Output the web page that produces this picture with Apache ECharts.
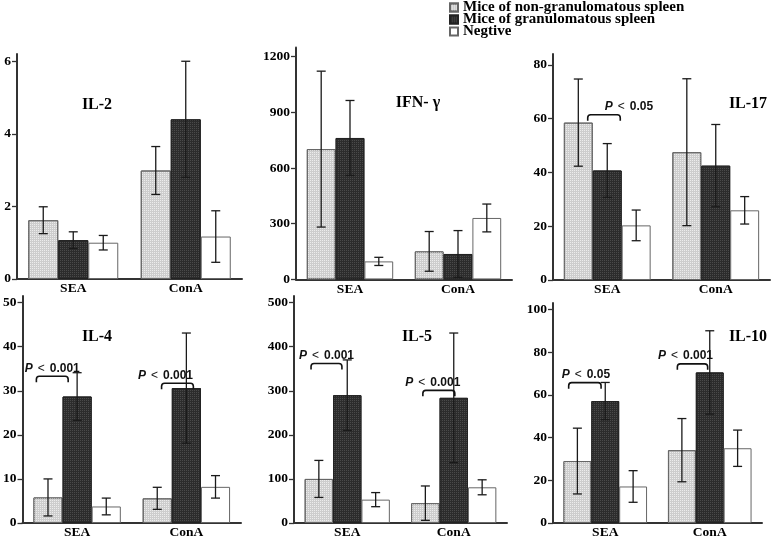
<!DOCTYPE html>
<html><head><meta charset="utf-8">
<script src="https://cdn.jsdelivr.net/npm/echarts@6/dist/echarts.min.js"></script>
<style>html,body{margin:0;padding:0;background:#fff}#c{width:778px;height:540px}</style>
</head><body><div id="c"></div>
<script>
// ---------------- DATA ----------------
const categories = ['SEA', 'ConA'];
const groupNames = ['Mice of non-granulomatous spleen', 'Mice of granulomatous spleen', 'Negtive'];
const panelTitles = ['IL-2', 'IFN- γ', 'IL-17', 'IL-4', 'IL-5', 'IL-10'];

// means per group: [SEA, ConA]
const il2Mean  = [[1.62, 2.99], [1.07, 4.40], [1.00, 1.17]];
const il2Err   = [[0.37, 0.66], [0.23, 1.60], [0.20, 0.71]];
const ifnMean  = [[702, 151], [762, 137], [97, 331]];
const ifnErr   = [[420, 107], [202, 126], [22, 75]];
const il17Mean = [[58.5, 47.5], [40.7, 42.5], [20.3, 25.9]];
const il17Err  = [[16.2, 27.3], [10.0, 15.3], [5.7, 5.1]];
const il4Mean  = [[5.8, 5.6], [28.7, 30.6], [3.75, 8.2]];
const il4Err   = [[4.2, 2.5], [5.4, 12.5], [1.9, 2.55]];
const il5Mean  = [[100, 45], [290, 284], [53, 81]];
const il5Err   = [[42, 39], [80, 147], [16, 17]];
const il10Mean = [[29, 34.1], [57.1, 70.5], [17.1, 35]];
const il10Err  = [[15.4, 14.8], [8.7, 19.5], [7.4, 8.5]];

// tick labels per panel
const il2Ticks  = [0, 2, 4, 6];
const ifnTicks  = [0, 300, 600, 900, 1200];
const il17Ticks = [0, 20, 40, 60, 80];
const il4Ticks  = [0, 10, 20, 30, 40, 50];
const il5Ticks  = [0, 100, 200, 300, 400, 500];
const il10Ticks = [0, 20, 40, 60, 80, 100];

// significance labels: [panelIndex, categoryIndex, bracketValue, label]
const sigLabels = [
  [2, 0, 61.4, '0.05'],
  [3, 0, 33.3, '0.001'],
  [3, 1, 31.7, '0.001'],
  [4, 0, 362, '0.001'],
  [4, 1, 301, '0.001'],
  [5, 0, 65.7, '0.05'],
  [5, 1, 74.5, '0.001']
];

// ---------------- LAYOUT ----------------
const panelMeans = [il2Mean, ifnMean, il17Mean, il4Mean, il5Mean, il10Mean];
const panelErrs = [il2Err, ifnErr, il17Err, il4Err, il5Err, il10Err];
const panelTicks = [il2Ticks, ifnTicks, il17Ticks, il4Ticks, il5Ticks, il10Ticks];
const panelMax = [6.2, 1250, 84, 51.5, 515, 103];
const grids = [
  {left: 17,  top: 54,  width: 225, height: 225},
  {left: 296, top: 47.4, width: 216, height: 232},
  {left: 553, top: 54,  width: 217, height: 226},
  {left: 21,  top: 296, width: 220, height: 229},
  {left: 294, top: 296, width: 213, height: 229},
  {left: 553, top: 303, width: 209, height: 223}
];
const titlePos = [[97, 97], [418, 95], [748, 96], [97, 329], [417, 329], [748, 329]];
// bracket horizontal extent relative to category centre, in band widths; text dx in px
const sigLayout = [
  [-0.18, 0.12, 25],
  [-0.373, -0.082, 0],
  [-0.227, 0.064, -12],
  [-0.34, -0.05, 0],
  [-0.29, 0.01, -6],
  [-0.35, -0.04, 1],
  [-0.31, -0.02, -7]
];

const serif = 'Liberation Serif';
const sans = 'Liberation Sans';
const fills = ['#cdcdcd', '#2c2c2c', '#ffffff'];
const borders = ['#666', '#222', '#666'];
const decals = [
  {symbol: 'rect', symbolSize: 1, dashArrayX: [1, 1], dashArrayY: [1, 1], color: '#ececec'},
  {symbol: 'rect', symbolSize: 1, dashArrayX: [1, 1], dashArrayY: [1, 1], color: '#4a4a4a'},
  null
];

const CAT_GAP = 0.2;

function barCenter(api, cat, g, band) {
  const barW = band * (1 - CAT_GAP) / 3;
  return api.coord([cat, 0])[0] - band * (1 - CAT_GAP) / 2 + barW * (g + 0.5);
}

function renderErr(params, api) {
  const cat = api.value(0), g = api.value(1), m = api.value(2), e = api.value(3);
  const band = api.size([1, 0])[0];
  const cx = barCenter(api, cat, g, band);
  const yHi = api.coord([cat, m + e])[1];
  const yLo = api.coord([cat, Math.max(0, m - e)])[1];
  const cap = 4.5;
  const st = {stroke: '#1a1a1a', lineWidth: 1.3};
  return {type: 'group', children: [
    {type: 'line', shape: {x1: cx, y1: yHi, x2: cx, y2: yLo}, style: st},
    {type: 'line', shape: {x1: cx - cap, y1: yHi, x2: cx + cap, y2: yHi}, style: st},
    {type: 'line', shape: {x1: cx - cap, y1: yLo, x2: cx + cap, y2: yLo}, style: st}
  ]};
}

function makeSigRender(layouts, labels) {
  return function (params, api) {
    const idx = params.dataIndex;
    const lay = layouts[idx];
    const cat = api.value(0), v = api.value(1);
    const band = api.size([1, 0])[0];
    const c = api.coord([cat, v]);
    const x1 = c[0] + lay[0] * band, x2 = c[0] + lay[1] * band, y = c[1];
    const h = 6, r = 3;
    const path = 'M' + x1 + ' ' + (y + h) + ' L' + x1 + ' ' + (y + r) + ' Q' + x1 + ' ' + y + ' ' + (x1 + r) + ' ' + y +
      ' L' + (x2 - r) + ' ' + y + ' Q' + x2 + ' ' + y + ' ' + x2 + ' ' + (y + r) + ' L' + x2 + ' ' + (y + h);
    const label = labels[idx];
    return {type: 'group', children: [
      {type: 'path', shape: {pathData: path}, style: {stroke: '#111', lineWidth: 1.6, fill: null}},
      {type: 'text', x: (x1 + x2) / 2 + lay[2], y: y - 2, style: {
        text: '{p|P}{l|<}{v|' + label + '}',
        align: 'center', verticalAlign: 'bottom',
        rich: {
          p: {fontFamily: sans, fontWeight: 'bold', fontStyle: 'italic', fontSize: 12, fill: '#111'},
          l: {fontFamily: sans, fontWeight: 'normal', fontSize: 12, fill: '#111', padding: [0, 5, 0, 5]},
          v: {fontFamily: sans, fontWeight: 'bold', fontSize: 12, fill: '#111'}
        }
      }}
    ]};
  };
}

const xAxes = [], yAxes = [], series = [];
grids.forEach((gr, p) => {
  xAxes.push({
    type: 'category', gridIndex: p, data: categories,
    axisLine: {lineStyle: {color: '#333', width: 2}},
    axisTick: {show: false},
    axisLabel: {margin: 3, fontFamily: serif, fontWeight: 'bold', fontSize: 13.5, color: '#000'}
  });
  yAxes.push({
    type: 'value', gridIndex: p, min: 0, max: panelMax[p],
    splitLine: {show: false},
    axisLine: {show: true, lineStyle: {color: '#333', width: 2}},
    axisTick: {show: true, length: 5, customValues: panelTicks[p], lineStyle: {color: '#333', width: 1.3}},
    axisLabel: {margin: 6, customValues: panelTicks[p], formatter: v => String(v),
      fontFamily: serif, fontWeight: 'bold', fontSize: 13.5, color: '#000'}
  });
  for (let g = 0; g < 3; g++) {
    const itemStyle = {color: fills[g], borderColor: borders[g], borderWidth: 1};
    if (decals[g]) itemStyle.decal = decals[g];
    series.push({
      type: 'bar', name: groupNames[g], xAxisIndex: p, yAxisIndex: p,
      data: panelMeans[p][g],
      barGap: '0%', barCategoryGap: (CAT_GAP * 100) + '%',
      itemStyle: itemStyle,
      emphasis: {disabled: true},
      animation: false
    });
  }
  const errData = [];
  for (let g = 0; g < 3; g++) {
    for (let c = 0; c < categories.length; c++) {
      errData.push([c, g, panelMeans[p][g][c], panelErrs[p][g][c]]);
    }
  }
  series.push({
    type: 'custom', xAxisIndex: p, yAxisIndex: p, data: errData, renderItem: renderErr,
    encode: {x: 0, y: 2}, z: 5, silent: true, animation: false, clip: false
  });
  const sigItems = [], sigLays = [], sigTexts = [];
  sigLabels.forEach((s, i) => {
    if (s[0] === p) { sigItems.push([s[1], s[2]]); sigLays.push(sigLayout[i]); sigTexts.push(s[3]); }
  });
  if (sigItems.length) {
    series.push({
      type: 'custom', xAxisIndex: p, yAxisIndex: p, data: sigItems, renderItem: makeSigRender(sigLays, sigTexts),
      encode: {x: 0, y: 1}, z: 6, silent: true, animation: false, clip: false
    });
  }
});

const chart = echarts.init(document.getElementById('c'), null, {renderer: 'canvas'});
chart.setOption({
  animation: false,
  backgroundColor: '#fff',
  grid: grids,
  xAxis: xAxes,
  yAxis: yAxes,
  series: series,
  title: panelTitles.map((t, i) => ({
    text: t, left: titlePos[i][0], top: titlePos[i][1], textAlign: 'center', padding: 0,
    textStyle: {fontFamily: serif, fontWeight: 'bold', fontSize: 16, color: '#000'}
  })),
  legend: {
    data: groupNames, orient: 'vertical', left: 449, top: 0, padding: 0,
    itemWidth: 8, itemHeight: 8, itemGap: -3, icon: 'rect', selectedMode: false,
    textStyle: {fontFamily: serif, fontWeight: 'bold', fontSize: 15, color: '#000'}
  }
});
</script>
</body></html>
